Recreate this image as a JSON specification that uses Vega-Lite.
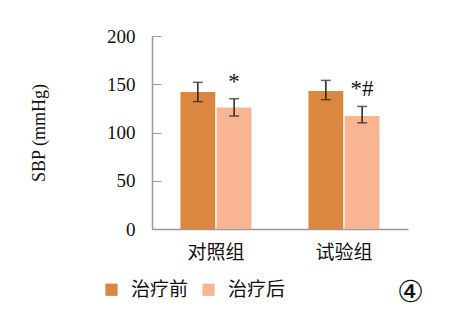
{
  "$schema": "https://vega.github.io/schema/vega-lite/v6.json",
  "autosize": "none",
  "width": 256,
  "height": 193,
  "padding": {"left": 152, "top": 36, "right": 45, "bottom": 94},
  "background": "white",
  "config": {"view": {"stroke": null}, "font": "Liberation Serif"},
  "data": {"values": [
    {"group": "对照组", "period": "治疗前", "value": 142, "lo": 132, "hi": 152, "mark": ""},
    {"group": "对照组", "period": "治疗后", "value": 126, "lo": 117, "hi": 135, "mark": "*"},
    {"group": "试验组", "period": "治疗前", "value": 143, "lo": 134, "hi": 154, "mark": ""},
    {"group": "试验组", "period": "治疗后", "value": 117, "lo": 110, "hi": 127, "mark": "*#"}
  ]},
  "encoding": {
    "x": {"field": "group", "type": "nominal", "sort": ["对照组", "试验组"],
      "scale": {"paddingInner": 0.445, "paddingOuter": 0.2225},
      "axis": {"title": null, "labelAngle": 0, "labelFont": "Noto Sans CJK SC", "labelFontSize": 19, "labelColor": "#111", "labelPadding": 14, "ticks": false, "domainColor": "#999", "domainWidth": 1.5}},
    "xOffset": {"field": "period", "type": "nominal", "sort": ["治疗前", "治疗后"], "scale": {"paddingInner": 0.04}}
  },
  "layer": [
    {
      "mark": {"type": "bar"},
      "encoding": {
        "y": {"field": "value", "type": "quantitative", "scale": {"domain": [0, 200]},
          "axis": {"title": "SBP (mmHg)", "titleFont": "Liberation Serif", "titleFontSize": 18, "titleFontWeight": "normal", "titleColor": "#111", "titlePadding": 58,
            "values": [0, 50, 100, 150, 200], "labelFontSize": 19, "labelColor": "#111", "labelPadding": 26, "tickSize": -9, "tickColor": "#999", "domainColor": "#999", "domainWidth": 1.5, "grid": false}},
        "color": {"field": "period", "type": "nominal", "sort": ["治疗前", "治疗后"],
          "scale": {"range": ["#DC873F", "#F9B591"]},
          "legend": {"title": null, "orient": "none", "legendX": -50, "legendY": 244, "direction": "horizontal",
            "symbolType": "square", "symbolSize": 150, "symbolStrokeWidth": 0, "symbolOpacity": 1,
            "labelFont": "Noto Sans CJK SC", "labelFontSize": 19, "labelColor": "#111", "labelOffset": 10, "columnPadding": 10}}
      }
    },
    {
      "mark": {"type": "rule", "color": "#222", "strokeWidth": 1.5},
      "encoding": {"y": {"field": "lo", "type": "quantitative"}, "y2": {"field": "hi"}}
    },
    {
      "mark": {"type": "tick", "color": "#222", "thickness": 1.5, "size": 10},
      "encoding": {"y": {"field": "lo", "type": "quantitative"}}
    },
    {
      "mark": {"type": "tick", "color": "#222", "thickness": 1.5, "size": 10},
      "encoding": {"y": {"field": "hi", "type": "quantitative"}}
    },
    {
      "mark": {"type": "text", "baseline": "alphabetic", "dy": -10, "fontSize": 23, "color": "#111", "font": "Liberation Serif"},
      "encoding": {"y": {"field": "hi", "type": "quantitative"}, "text": {"field": "mark"}}
    }
  ],
  "title": {"text": "④", "orient": "bottom", "anchor": "end", "fontSize": 30, "fontWeight": "normal", "font": "DejaVu Sans", "color": "#111", "offset": -22, "dx": 16}
}
